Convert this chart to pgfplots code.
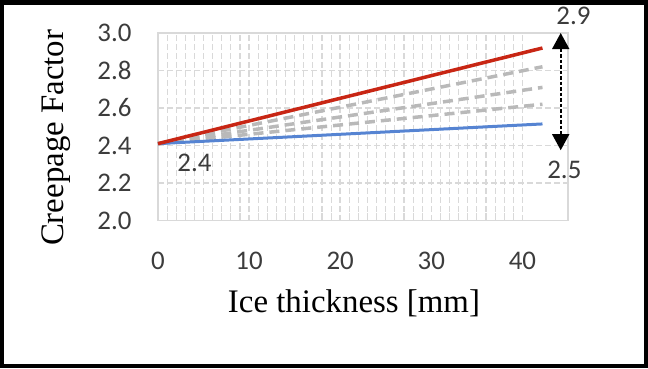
\documentclass[border=0pt]{standalone}
\usepackage{pgfplots}
\pgfplotsset{compat=1.18}
\usepackage{fontspec}
\setmainfont{Liberation Serif}
\newfontfamily\calib{Carlito}
\usetikzlibrary{arrows.meta}
\definecolor{cred}{RGB}{200,38,20}
\definecolor{cblue}{RGB}{86,132,210}
\definecolor{cgray}{RGB}{185,185,185}
\definecolor{cgrid}{RGB}{217,217,217}
\definecolor{ctxt}{RGB}{60,60,60}
\begin{document}
\begin{tikzpicture}[x=1bp,y=1bp]
\useasboundingbox (-158,-147.5) rectangle (490,220.5);
\draw[line width=4.5bp,black] (-155.75,-145.25) rectangle (487.75,218.25);
\begin{axis}[
  at={(0,0)}, anchor=south west,
  scale only axis, width=410bp, height=187.5bp,
  xmin=0, xmax=45, ymin=2.0, ymax=3.0,
  xtick={0,10,20,30,40}, minor x tick num=9,
  ytick={2.0,2.2,2.4,2.6,2.8,3.0},
  yticklabel style={/pgf/number format/fixed,/pgf/number format/fixed zerofill,/pgf/number format/precision=1},
  /pgf/number format/assume math mode=true,
  ticklabel style={font=\calib\fontsize{27}{27}\selectfont, text=ctxt},
  xticklabel shift=28bp, yticklabel shift=23bp,
  xtick style={draw=none}, ytick style={draw=none},
  minor x tick style={draw=cgrid, line width=1.2bp},
  minor tick length=8bp,
  xtick pos=bottom,
  grid=both,
  major grid style={draw=cgrid, line width=1.5bp, dash pattern=on 6bp off 3bp},
  minor grid style={draw=cgrid, line width=1.2bp, dash pattern=on 6bp off 3bp},
  axis line style={draw=cgrid, line width=1.8bp},
  xlabel={Ice thickness [mm]},
  ylabel={Creepage Factor},
  label style={font=\fontsize{33}{33}\selectfont, text=black},
  xlabel style={at={(axis description cs:0.478,-0.443)}, anchor=center},
  ylabel style={at={(axis description cs:-0.249,0.441)}, anchor=center},
  clip=false,
]
\addplot[cgray, line width=3.5bp, dash pattern=on 10bp off 6bp] coordinates {(0,2.41) (42.2,2.62)};
\addplot[cgray, line width=3.5bp, dash pattern=on 10bp off 6bp] coordinates {(0,2.41) (42.2,2.71)};
\addplot[cgray, line width=3.5bp, dash pattern=on 10bp off 6bp] coordinates {(0,2.41) (42.2,2.82)};
\addplot[cblue, line width=3bp] coordinates {(0,2.41) (42.2,2.515)};
\addplot[cred, line width=3.5bp] coordinates {(0,2.41) (42.2,2.92)};
\draw[line width=1.6bp, dash pattern=on 3.5bp off 2bp, {Triangle[length=16bp,width=17bp]}-{Triangle[length=16bp,width=17bp]}] (axis cs:44.2,3.0) -- (axis cs:44.2,2.375);
\node[font=\calib\fontsize{27}{27}\selectfont, text=ctxt] at (axis cs:45.6,3.09) {2.9};
\node[font=\calib\fontsize{27}{27}\selectfont, text=ctxt] at (axis cs:44.6,2.27) {2.5};
\node[font=\calib\fontsize{27}{27}\selectfont, text=ctxt] at (axis cs:4.0,2.31) {2.4};
\end{axis}
\end{tikzpicture}
\end{document}
